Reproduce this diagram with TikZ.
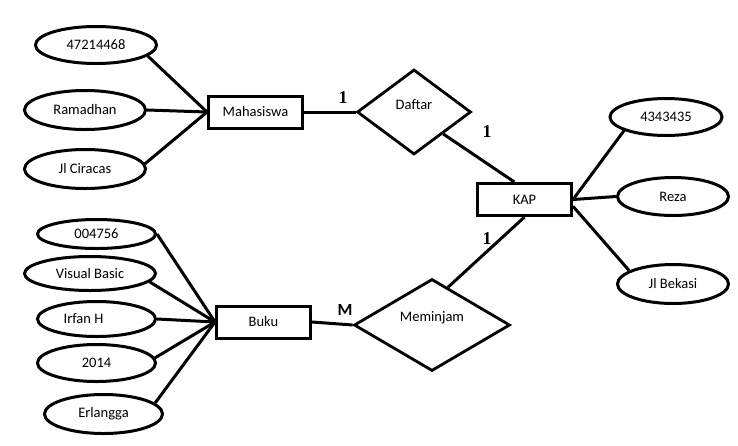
\documentclass[tikz,border=0pt]{standalone}
\usepackage{fontspec}
\setmainfont{Carlito}
\newfontfamily\cardserif{Liberation Serif}
\usetikzlibrary{shapes.geometric}

\begin{document}
\begin{tikzpicture}[x=1pt, y=-1pt,
	attr/.style={draw, ellipse, line width=3pt, inner sep=0pt, font=\fontsize{14.5}{17}\selectfont},
	entity/.style={draw, rectangle, line width=3pt, inner sep=0pt, minimum width=94pt, minimum height=32pt, font=\fontsize{14.5}{17}\selectfont},
	rel/.style={draw, diamond, line width=2.8pt, inner sep=0pt},
	reltext/.style={yshift=7pt, font=\fontsize{14.5}{17}\selectfont},
	link/.style={line width=3pt},
	cardone/.style={font=\cardserif\bfseries\fontsize{18}{20}\selectfont},
	cardmany/.style={font=\bfseries\fontsize{17}{19}\selectfont}]
			%%%%% START %%%%%
			
			\useasboundingbox (0, 0) rectangle (738, 445);
			
			\node[entity] (mhs) at (255.5, 112) {Mahasiswa};
			\node[entity] (kap) at (524.5, 199.5) {KAP};
			\node[entity] (buku) at (263.5, 322) {Buku};
			
			\node[rel, minimum width=114pt, minimum height=85pt, label={[reltext]center:Daftar}] (daftar) at (414, 112) {};
			\node[rel, minimum width=156pt, minimum height=92pt, label={[reltext]center:Meminjam}] (meminjam) at (432, 325) {};
			
			\node[attr, minimum width=121pt, minimum height=37pt] (a1) at (96, 45) {47214468};
			\node[attr, minimum width=121pt, minimum height=39pt] (a2) at (85, 110) {Ramadhan};
			\node[attr, minimum width=121pt, minimum height=39pt] (a3) at (85, 169) {Jl Ciracas};
			
			\node[attr, minimum width=112pt, minimum height=37pt] (k1) at (666, 117) {4343435};
			\node[attr, minimum width=111pt, minimum height=38pt] (k2) at (673, 196.5) {Reza};
			\node[attr, minimum width=111pt, minimum height=39pt] (k3) at (673, 284) {Jl Bekasi};
			
			\node[attr, minimum width=118pt, minimum height=29pt] (b1) at (96.5, 234) {004756};
			\node[attr, minimum width=131pt, minimum height=34pt] (b2) at (90, 273.5) {Visual Basic};
			\node[attr, minimum width=118pt, minimum height=35pt] (b3) at (96.5, 319) {Irfan H\kern26pt};
			\node[attr, minimum width=118pt, minimum height=37pt] (b4) at (96.5, 363) {2014};
			\node[attr, minimum width=118pt, minimum height=39pt] (b5) at (103.5, 414) {Erlangga};
			
			\draw[link] (a1.-12) -- (mhs.west);
			\draw[link] (a2.east) -- (mhs.west);
			\draw[link] (a3.5) -- (mhs.west);
			
			\draw[link] (mhs.east) -- (daftar.west);
			\draw[link] (daftar.south east) -- (kap.120);
			\draw[link] (kap.south) -- (meminjam.67);
			\draw[link] (buku.east) -- (meminjam.west);
			
			\draw[link] (kap.east) -- (k1.198);
			\draw[link] (kap.east) -- (k2.west);
			\draw[link] (kap.-8) -- (k3.163);
			
			\draw[link] (b1.east) -- (buku.west);
			\draw[link] (b2.-8) -- (buku.west);
			\draw[link] (b3.east) -- (buku.west);
			\draw[link] (b4.5) -- (buku.west);
			\draw[link] (b5.12) -- (buku.west);
			
			\node[cardone] (c1) at (343, 98) {1};
			\node[cardone] (c2) at (487, 132) {1};
			\node[cardone] (c3) at (487, 239) {1};
			\node[cardmany] (cm) at (345, 310) {M};
			
			%%%%% END %%%%%
\end{tikzpicture}
\end{document}
